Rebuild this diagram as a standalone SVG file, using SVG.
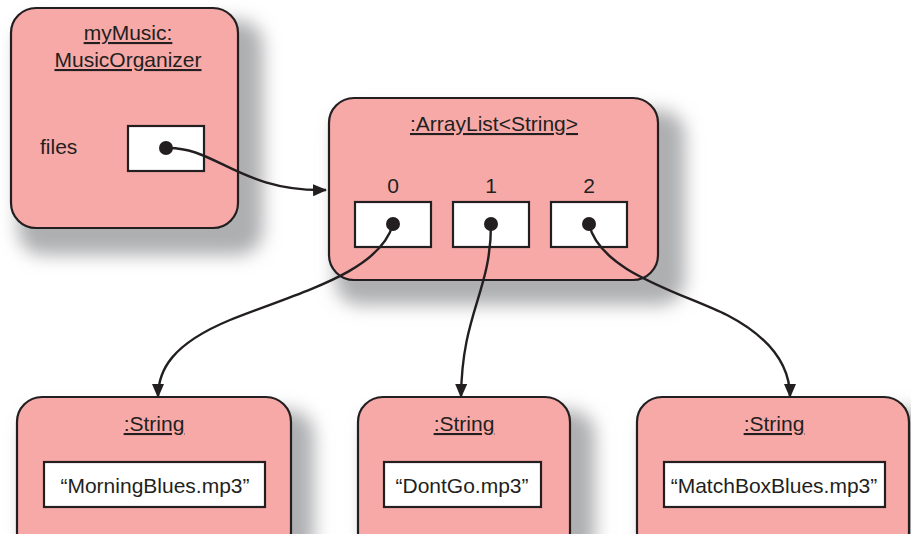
<svg xmlns="http://www.w3.org/2000/svg" width="911" height="534" viewBox="0 0 911 534">
<defs>
<filter id="sh" x="-30%" y="-30%" width="160%" height="160%"><feGaussianBlur stdDeviation="9"/></filter>
<marker id="ah" markerWidth="14" markerHeight="12" refX="13" refY="6" orient="auto" markerUnits="userSpaceOnUse"><path d="M0,0 L14,6 L0,12 Z" fill="#231f20"/></marker>
</defs>
<style>
.shadow{fill:#aeafb1;filter:url(#sh)}
.obj{fill:#f7a9a8;stroke:#231f20;stroke-width:2.2}
.slot{fill:#fff;stroke:#231f20;stroke-width:2.2}
.dot{fill:#231f20}
text{font-family:"Liberation Sans",Arial,sans-serif;font-size:21px;fill:#231f20}
.t{text-anchor:middle;text-decoration:underline}
.c{text-anchor:middle}
.con{fill:none;stroke:#231f20;stroke-width:2.4;marker-end:url(#ah)}
</style>
<rect width="911" height="534" fill="#fff"/>
<g id="shadows">
<rect class="shadow" x="18" y="20" width="245" height="235" rx="25"/>
<rect class="shadow" x="335" y="110" width="350" height="195" rx="25"/>
<rect class="shadow" x="24" y="410" width="290" height="150" rx="25"/>
<rect class="shadow" x="365" y="410" width="230" height="150" rx="25"/>
<rect class="shadow" x="644" y="410" width="290" height="150" rx="25"/>
</g>
<g id="myMusic">
<rect class="obj" x="11" y="8" width="227" height="220" rx="25"/>
<text class="t" x="128" y="40">myMusic:</text>
<text class="t" x="128" y="67">MusicOrganizer</text>
<text x="40" y="154">files</text>
<rect class="slot" x="128" y="126" width="76" height="45"/>
<circle class="dot" cx="166" cy="148" r="7"/>
</g>
<g id="arrayList">
<rect class="obj" x="329" y="98" width="329" height="182" rx="25"/>
<text class="t" x="494" y="131">:ArrayList&lt;String&gt;</text>
<text class="c" x="393" y="193">0</text>
<text class="c" x="491" y="193">1</text>
<text class="c" x="589" y="193">2</text>
<rect class="slot" x="355" y="202" width="76" height="45"/>
<rect class="slot" x="453" y="202" width="76" height="45"/>
<rect class="slot" x="551" y="202" width="76" height="45"/>
<circle class="dot" cx="393" cy="224" r="7"/>
<circle class="dot" cx="491" cy="224" r="7"/>
<circle class="dot" cx="589" cy="224" r="7"/>
</g>
<g id="string0">
<rect class="obj" x="17" y="397" width="274" height="160" rx="25"/>
<text class="t" x="154" y="431">:String</text>
<rect class="slot" x="44" y="462" width="221" height="45"/>
<text class="c" x="155" y="493">“MorningBlues.mp3”</text>
</g>
<g id="string1">
<rect class="obj" x="358" y="397" width="212" height="160" rx="25"/>
<text class="t" x="464" y="431">:String</text>
<rect class="slot" x="384" y="462" width="157" height="45"/>
<text class="c" x="462" y="493">“DontGo.mp3”</text>
</g>
<g id="string2">
<rect class="obj" x="637" y="397" width="272" height="160" rx="25"/>
<text class="t" x="774" y="431">:String</text>
<rect class="slot" x="664" y="462" width="221" height="45"/>
<text class="c" x="774" y="493">“MatchBoxBlues.mp3”</text>
</g>
<g id="connectors">
<path class="con" d="M166,148 C215,146 240,192 326,190"/>
<path class="con" d="M393,224 C380,272 300,292 230,320 C172,344 158,370 158,397"/>
<path class="con" d="M491,224 C491,292 462,312 461,397"/>
<path class="con" d="M589,224 C600,272 680,292 727,315 C775,340 790,370 790,397"/>
</g>
</svg>
